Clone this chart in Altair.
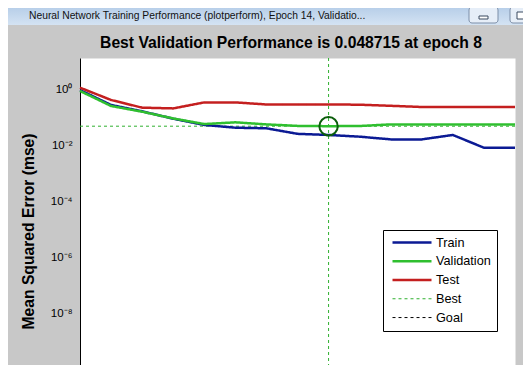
import altair as alt
import pandas as pd

# ---- data ----
epochs = list(range(15))
train = [0.95, 0.278, 0.165, 0.09, 0.054, 0.043, 0.041, 0.026, 0.0237, 0.0206, 0.0165, 0.0165, 0.0237, 0.0083, 0.0083]
validation = [0.88, 0.256, 0.16, 0.092, 0.058, 0.067, 0.0565, 0.050, 0.048715, 0.0495, 0.0565, 0.0565, 0.0565, 0.0565, 0.0565]
test = [1.15, 0.42, 0.223, 0.21, 0.344, 0.344, 0.29, 0.29, 0.29, 0.285, 0.26, 0.236, 0.236, 0.236, 0.236]
best_epoch = 8
best_value = 0.048715
goal_value = 1e-10
series_names = ["Train", "Validation", "Test", "Best", "Goal"]
series_colors = ["#0b1a94", "#2fbf2f", "#c41f1f", "#2fb02f", "#000000"]
series_dash = [[1, 0], [1, 0], [1, 0], [3, 3], [3, 3]]
series_width = [2.5, 2.5, 2.5, 1, 1]
y_ticks = [1e-8, 1e-6, 1e-4, 1e-2, 1]
window_title = "Neural Network Training Performance (plotperform), Epoch 14, Validatio..."
chart_title = "Best Validation Performance is 0.048715 at epoch 8"
y_title = "Mean Squared Error  (mse)"

lines_df = pd.DataFrame({
    "epoch": epochs * 3,
    "mse": train + validation + test,
    "series": ["Train"] * len(epochs) + ["Validation"] * len(epochs) + ["Test"] * len(epochs),
})
best_h_df = pd.DataFrame({"mse": [best_value], "series": ["Best"]})
best_v_df = pd.DataFrame({"epoch": [best_epoch], "series": ["Best"]})
goal_df = pd.DataFrame({"mse": [goal_value], "series": ["Goal"]})
best_pt_df = pd.DataFrame({"epoch": [best_epoch], "mse": [best_value]})
one_df = pd.DataFrame({"k": [0]})

FONT = "Liberation Sans"

x_enc = alt.X("epoch:Q", scale=alt.Scale(domain=[0, 14], nice=False, zero=False), axis=None)
sup = "['⁰','¹','²','³','⁴','⁵','⁶','⁷','⁸','⁹','¹⁰']"
lab_expr = ("'10' + (round(log(datum.value)/LN10) < 0 ? '⁻' : '') + "
            + sup + "[abs(round(log(datum.value)/LN10))]")
y_enc = alt.Y(
    "mse:Q",
    scale=alt.Scale(type="log", domain=[10 ** -9.83, 10 ** 1.12], nice=False),
    title=y_title,
    axis=alt.Axis(
        values=y_ticks, labelExpr=lab_expr, ticks=False, grid=False,
        domainColor="black", domainWidth=1,
        labelFont=FONT, labelFontSize=11.5, labelColor="black", labelPadding=8,
        titleFont=FONT, titleFontSize=15.7, titleFontWeight="bold", titleColor="black",
        titleX=-52, titleY=173, titleAngle=270, titleBaseline="middle", titleAlign="center",
    ),
)
legend = alt.Legend(
    orient="none", legendX=303, legendY=172,
    fillColor="white", strokeColor="black", padding=6, cornerRadius=0,
    labelFont=FONT, labelFontSize=12.7, labelColor="black", labelOffset=34,
    symbolType="M-0.6,0H7.2", symbolSize=100, rowPadding=4.8,
)
color_enc = alt.Color("series:N", scale=alt.Scale(domain=series_names, range=series_colors),
                      legend=legend, title=None)
dash_enc = alt.StrokeDash("series:N", scale=alt.Scale(domain=series_names, range=series_dash),
                          legend=legend, title=None)
width_enc = alt.StrokeWidth("series:N",
                            scale=alt.Scale(type="ordinal", domain=series_names, range=series_width),
                            legend=legend, title=None)

lines = alt.Chart(lines_df).mark_line().encode(
    x=x_enc, y=y_enc, color=color_enc, strokeDash=dash_enc, strokeWidth=width_enc)
best_h = alt.Chart(best_h_df).mark_rule().encode(
    y=y_enc, color=color_enc, strokeDash=dash_enc, strokeWidth=width_enc)
best_v = alt.Chart(best_v_df).mark_rule().encode(
    x=x_enc, color=color_enc, strokeDash=dash_enc, strokeWidth=width_enc)
goal = alt.Chart(goal_df).mark_rule(clip=True).encode(
    y=y_enc, color=color_enc, strokeDash=dash_enc, strokeWidth=width_enc)
circle = alt.Chart(best_pt_df).mark_point(
    shape="circle", size=340, filled=False, stroke="#0c5e0c", strokeWidth=2, opacity=1
).encode(x=x_enc, y=y_enc)

# main title as text (placed above the plot area)
title_mark = alt.Chart(one_df).mark_text(
    align="center", baseline="middle", font=FONT, fontSize=15.7, fontWeight="bold", color="black"
).encode(x=alt.value(211), y=alt.value(-15), text=alt.value(chart_title))

# window title bar decoration
bar = alt.Chart(one_df).mark_rect(
    fill=alt.Gradient(gradient="linear", x1=0, y1=0, x2=0, y2=1,
                      stops=[alt.GradientStop(color="#b8cfe9", offset=0),
                             alt.GradientStop(color="#d4e3f3", offset=1)])
).encode(x=alt.value(-72), x2=alt.value(443), y=alt.value(-50), y2=alt.value(-33))
bar_text = alt.Chart(one_df).mark_text(
    align="left", baseline="middle", font=FONT, fontSize=10.3, color="#111111"
).encode(x=alt.value(-51), y=alt.value(-42.5), text=alt.value(window_title))
btn1 = alt.Chart(one_df).mark_rect(fill="#e6eef8", stroke="#7d8fa8", strokeWidth=1, cornerRadius=3).encode(
    x=alt.value(389), x2=alt.value(418), y=alt.value(-51), y2=alt.value(-35))
btn2 = alt.Chart(one_df).mark_rect(fill="#e6eef8", stroke="#7d8fa8", strokeWidth=1, cornerRadius=3).encode(
    x=alt.value(430), x2=alt.value(452), y=alt.value(-51), y2=alt.value(-35))
glyph1 = alt.Chart(one_df).mark_rect(fill="white", stroke="#3a4a60", strokeWidth=1).encode(
    x=alt.value(399), x2=alt.value(408), y=alt.value(-42), y2=alt.value(-39))
glyph2 = alt.Chart(one_df).mark_rect(fill="white", stroke="#3a4a60", strokeWidth=1).encode(
    x=alt.value(437), x2=alt.value(446), y=alt.value(-46), y2=alt.value(-39))

chart = alt.layer(
    best_h, best_v, goal, lines, circle, title_mark, bar, bar_text, btn1, btn2, glyph1, glyph2
).properties(
    width=435, height=307,
    padding={"left": 72, "top": 50, "right": 8, "bottom": 0},
    autosize=alt.AutoSizeParams(type="none"),
    background="#c8c8c8",
).configure_view(fill="white", stroke="transparent")

chart.save("out.html", embed_options={"renderer": "svg", "actions": False})
